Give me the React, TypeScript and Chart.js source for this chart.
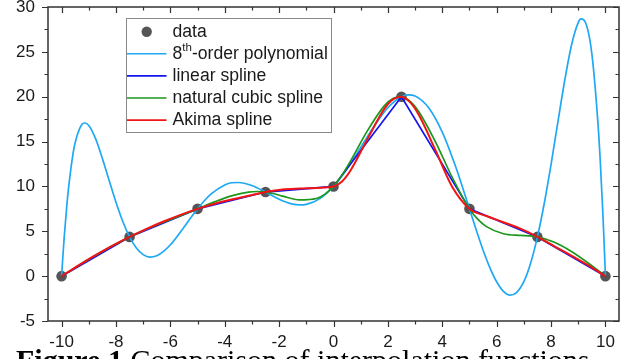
import React, { useEffect, useRef } from "react";
import { Chart, registerables } from "chart.js";

Chart.register(...registerables);

// ---------- data ----------
const dataX = [-10, -7.5, -5, -2.5, 0, 2.5, 5, 7.5, 10];
const dataY = [0, 4.375, 7.5, 9.375, 10, 20, 7.5, 4.375, 0];

const polyX = [-10, -9.95, -9.9, -9.8, -9.75, -9.6, -9.5, -9.25, -9.15, -9, -8.75, -8.5, -8.25, -8, -7.75, -7.5, -7.25, -7, -6.75, -6.5, -6.25, -6, -5.75, -5.5, -5.25, -5, -4.75, -4.5, -4, -3.75, -3.5, -3.25, -3, -2.5, -2, -1.5, -1.25, -1, -0.5, 0, 0.5, 1, 1.5, 2, 2.5, 2.75, 3, 3.5, 4, 4.5, 4.75, 5, 5.25, 5.5, 5.75, 6, 6.25, 6.5, 6.75, 7, 7.25, 7.5, 7.75, 8, 8.25, 8.5, 8.75, 9, 9.1, 9.25, 9.5, 9.75, 9.8, 9.9, 9.95, 10];
const polyY = [0, 2.36, 4.5, 8.14, 9.67, 13.25, 14.89, 16.92, 17.07, 16.8, 15.33, 13.12, 10.65, 8.23, 6.09, 4.375, 3.14, 2.4, 2.12, 2.27, 2.76, 3.5, 4.43, 5.46, 6.5, 7.5, 8.4, 9.16, 10.17, 10.41, 10.44, 10.33, 10.1, 9.375, 8.58, 8.03, 7.94, 8.0, 8.64, 10, 11.98, 14.34, 16.74, 18.77, 20, 20.2, 20.08, 18.77, 16.05, 12.13, 9.86, 7.5, 5.15, 2.92, 0.95, -0.63, -1.7, -2.12, -1.78, -0.61, 1.45, 4.375, 8.1, 12.44, 17.13, 21.75, 25.71, 28.26, 28.67, 28.38, 24.82, 16.0, 13.45, 7.4, 3.88, 0];

const naturalX = [-10, -9.375, -8.75, -8.125, -7.5, -6.875, -6.25, -5.625, -5, -4.375, -3.75, -3.125, -2.8125, -2.5, -2.1875, -1.875, -1.25, -0.625, -0.3125, 0, 0.3125, 0.625, 1.25, 1.875, 2.1875, 2.5, 2.8125, 3.125, 3.75, 4.375, 5, 5.3125, 5.625, 6.25, 6.875, 7.1875, 7.5, 8.125, 8.75, 9.375, 10];
const naturalY = [0, 1.176, 2.32, 3.397, 4.375, 5.235, 6.01, 6.749, 7.5, 8.276, 8.953, 9.372, 9.435, 9.375, 9.186, 8.927, 8.491, 8.653, 9.142, 10, 11.264, 12.822, 16.223, 19.013, 19.806, 20, 19.495, 18.39, 14.977, 10.95, 7.5, 6.326, 5.522, 4.729, 4.541, 4.491, 4.375, 3.77, 2.746, 1.443, 0];

const akimaX = [-10, -9.375, -8.75, -8.125, -7.5, -6.875, -6.25, -5.625, -5, -4.375, -3.75, -3.125, -2.5, -1.875, -1.25, -0.625, -0.3125, 0, 0.3125, 0.625, 1.25, 1.875, 2.1875, 2.5, 2.8125, 3.125, 3.75, 4.375, 5, 5.625, 6.25, 6.875, 7.5, 8.125, 8.75, 9.375, 10];
const akimaY = [0, 1.211, 2.344, 3.398, 4.375, 5.273, 6.094, 6.836, 7.5, 8.063, 8.534, 8.956, 9.375, 9.663, 9.764, 9.826, 9.89, 10, 10.554, 11.778, 15.296, 18.666, 19.705, 20, 19.393, 18.041, 14.046, 9.903, 7.5, 6.701, 6.014, 5.288, 4.375, 3.331, 2.284, 1.189, 0];

const xTicks = [-10, -8, -6, -4, -2, 0, 2, 4, 6, 8, 10];
const xTickLabels = ["-10", "-8", "-6", "-4", "-2", "0", "2", "4", "6", "8", "10"];
const xMinorTicks = [-9, -7, -5, -3, -1, 1, 3, 5, 7, 9];
const yTicks = [-5, 0, 5, 10, 15, 20, 25, 30];
const yTickLabels = ["-5", "0", "5", "10", "15", "20", "25", "30"];
const yMinorTicks = [-2.5, 2.5, 7.5, 12.5, 17.5, 22.5, 27.5];

const legendItems = [
  { kind: "dot", label: "data", color: "#555555" },
  { kind: "line", label: "8th-order polynomial", color: "#1fa9f4" },
  { kind: "line", label: "linear spline", color: "#1414ee" },
  { kind: "line", label: "natural cubic spline", color: "#1c961c" },
  { kind: "line", label: "Akima spline", color: "#f21414" },
];

const FONT = '"Liberation Sans", Arial, sans-serif';
const pts = (xs: number[], ys: number[]) => xs.map((x, i) => ({ x, y: ys[i] }));

const framePlugin = {
  id: "frame",
  afterDraw(chart: any) {
    const { ctx, chartArea: a, scales } = chart;
    const x = scales.x;
    const y = scales.y;
    ctx.save();
    ctx.strokeStyle = "#333333";
    ctx.lineWidth = 1.5;
    ctx.strokeRect(a.left, a.top, a.right - a.left, a.bottom - a.top);
    ctx.lineWidth = 1.2;
    ctx.beginPath();
    const xt = (v: number, len: number) => {
      const p = Math.round(x.getPixelForValue(v)) + 0.5;
      ctx.moveTo(p, a.bottom);
      ctx.lineTo(p, a.bottom + len);
      ctx.moveTo(p, a.top);
      ctx.lineTo(p, a.top + len);
    };
    const yt = (v: number, len: number) => {
      const p = Math.round(y.getPixelForValue(v)) + 0.5;
      ctx.moveTo(a.left - len, p);
      ctx.lineTo(a.left, p);
      ctx.moveTo(a.right, p);
      ctx.lineTo(a.right - len, p);
    };
    xTicks.forEach((v) => xt(v, 6));
    xMinorTicks.forEach((v) => xt(v, 3.5));
    yTicks.forEach((v) => yt(v, 6));
    yMinorTicks.forEach((v) => yt(v, 3.5));
    ctx.stroke();

    // legend
    const bx = 126, by = 18.5, bw = 205, bh = 114;
    ctx.fillStyle = "#ffffff";
    ctx.fillRect(bx, by, bw, bh);
    ctx.strokeStyle = "#8a8a8a";
    ctx.lineWidth = 1;
    ctx.strokeRect(bx + 0.5, by, bw, bh);
    ctx.textBaseline = "middle";
    ctx.textAlign = "left";
    const F = "17.6px " + FONT;
    legendItems.forEach((it, i) => {
      const cy = 31.7 + i * 22.1;
      if (it.kind === "dot") {
        ctx.fillStyle = it.color;
        ctx.beginPath();
        ctx.arc(146.7, cy, 5.2, 0, Math.PI * 2);
        ctx.fill();
      } else {
        ctx.strokeStyle = it.color;
        ctx.lineWidth = 1.6;
        ctx.beginPath();
        ctx.moveTo(127, cy);
        ctx.lineTo(166.5, cy);
        ctx.stroke();
      }
      ctx.fillStyle = "#1a1a1a";
      let tx = 172.5;
      if (it.label.startsWith("8th")) {
        ctx.font = F;
        ctx.fillText("8", tx, cy);
        tx += ctx.measureText("8").width;
        ctx.font = "11.5px " + FONT;
        ctx.fillText("th", tx, cy - 6);
        tx += ctx.measureText("th").width;
        ctx.font = F;
        ctx.fillText(it.label.slice(3), tx, cy);
      } else {
        ctx.font = F;
        ctx.fillText(it.label, tx, cy);
      }
    });
    ctx.restore();
  },
};

export default function App() {
  const ref = useRef<HTMLCanvasElement | null>(null);
  useEffect(() => {
    if (!ref.current) return;
    const lineDs = (label: string, xs: number[], ys: number[], color: string, width: number, order: number, monotone = true) => ({
      label,
      data: pts(xs, ys),
      borderColor: color,
      backgroundColor: color,
      borderWidth: width,
      pointRadius: 0,
      showLine: true,
      fill: false,
      tension: 0,
      cubicInterpolationMode: monotone ? "monotone" : "default",
      order,
    });
    const chart = new Chart(ref.current, {
      type: "line",
      data: {
        datasets: [
          {
            label: "data",
            data: pts(dataX, dataY),
            showLine: false,
            pointRadius: 5.3,
            pointBackgroundColor: "#555555",
            pointBorderWidth: 0,
            borderColor: "#555555",
            order: 5,
          } as any,
          lineDs("8th-order polynomial", polyX, polyY, "#1fa9f4", 1.7, 4),
          lineDs("linear spline", dataX, dataY, "#1414ee", 1.7, 3, false),
          lineDs("natural cubic spline", naturalX, naturalY, "#1c961c", 1.7, 2),
          lineDs("Akima spline", akimaX, akimaY, "#f21414", 2, 1),
        ],
      },
      options: {
        responsive: false,
        animation: false,
        devicePixelRatio: 1,
        layout: { padding: { top: 7, right: 13, left: 0, bottom: 0 } },
        plugins: { legend: { display: false }, tooltip: { enabled: false } },
        scales: {
          x: {
            type: "linear",
            min: -10.5,
            max: 10.5,
            grid: { display: false, drawTicks: false },
            border: { display: false },
            afterBuildTicks: (s: any) => {
              s.ticks = xTicks.map((v) => ({ value: v }));
            },
            afterFit: (s: any) => {
              s.height = 38;
              s.paddingLeft = 0;
              s.paddingRight = 0;
            },
            ticks: {
              padding: 11,
              color: "#1a1a1a",
              font: { family: FONT, size: 17 },
              maxRotation: 0,
              autoSkip: false,
              callback: (v: any) => xTickLabels[xTicks.indexOf(Number(v))] ?? "",
            },
          },
          y: {
            type: "linear",
            min: -5,
            max: 30,
            grid: { display: false, drawTicks: false },
            border: { display: false },
            afterBuildTicks: (s: any) => {
              s.ticks = yTicks.map((v) => ({ value: v }));
            },
            afterFit: (s: any) => {
              s.width = 48;
              s.paddingTop = 0;
              s.paddingBottom = 0;
            },
            ticks: {
              padding: 13,
              color: "#1a1a1a",
              font: { family: FONT, size: 17 },
              autoSkip: false,
              callback: (v: any) => yTickLabels[yTicks.indexOf(Number(v))] ?? "",
            },
          },
        },
      } as any,
      plugins: [framePlugin],
    });
    return () => chart.destroy();
  }, []);

  return (
    <div style={{ position: "fixed", left: 0, top: 0, width: 632, height: 359, overflow: "hidden", background: "#fff" }}>
      <canvas ref={ref} width={632} height={359} style={{ position: "absolute", left: 0, top: 0, width: 632, height: 359 }} />
      <div
        style={{
          position: "absolute",
          left: 16,
          top: 345,
          whiteSpace: "nowrap",
          fontFamily: '"Liberation Serif", "Times New Roman", serif',
          fontSize: 30,
          lineHeight: "30px",
          color: "#000",
        }}
      >
        <b>Figure 1</b> Comparison of interpolation functions
      </div>
    </div>
  );
}
